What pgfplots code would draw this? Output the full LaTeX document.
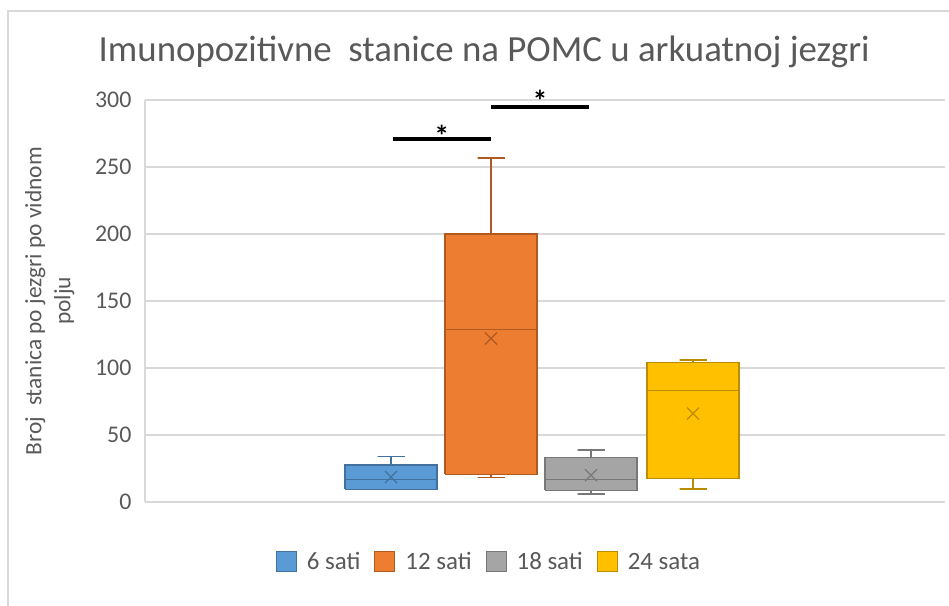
\documentclass[border=0pt]{standalone}
\usepackage{pgfplots}
\pgfplotsset{compat=1.18}
\usepackage{fontspec}
\setmainfont{Carlito}
\definecolor{txt}{HTML}{595959}
\definecolor{gridc}{HTML}{D9D9D9}
\definecolor{framec}{HTML}{D9D9D9}
\definecolor{bfill}{HTML}{5B9BD5}
\definecolor{bdraw}{HTML}{41719C}
\definecolor{ofill}{HTML}{ED7D31}
\definecolor{odraw}{HTML}{AE5A21}
\definecolor{gfill}{HTML}{A5A5A5}
\definecolor{gdraw}{HTML}{787878}
\definecolor{yfill}{HTML}{FFC000}
\definecolor{ydraw}{HTML}{BC8C00}
\begin{document}
\begin{tikzpicture}
\path[use as bounding box] (0bp,0bp) rectangle (949bp,606bp);
\draw[framec, line width=1.5bp] (8bp,-5bp) -- (8bp,595bp) -- (960bp,595bp);
\begin{axis}[
  at={(145bp,104bp)}, anchor=south west,
  scale only axis, width=800bp, height=402bp,
  xmin=-1.46, xmax=6.54, ymin=0, ymax=300,
  ytick={0,50,100,150,200,250,300}, xtick=\empty,
  ymajorgrids, grid style={gridc, line width=1.2bp},
  axis y line*=left, axis x line*=bottom,
  axis line style={gridc, line width=1.2bp, -},
  tick style={draw=none},
  ticklabel style={font=\fontsize{24}{28}\selectfont, text=txt},
  yticklabel style={xshift=-10bp},
  /pgf/number format/assume math mode=true,
  clip=false,
  title={Imunopozitivne\ \ stanice na POMC u arkuatnoj jezgri},
  title style={at={(axis description cs:0.424,1.08)}, anchor=base, font=\fontsize{37}{44}\selectfont, text=txt},
  ylabel={Broj\ \ stanica po jezgri po vidnom\\polju},
  ylabel style={at={(axis description cs:-0.119,0.5)}, anchor=center, align=center, font=\fontsize{23.5}{29}\selectfont, text=txt},
  legend style={at={(axis description cs:0.43,-0.149)}, anchor=center, draw=none, legend columns=4,
    font=\fontsize{25}{28}\selectfont, text=txt,
    /tikz/every odd column/.append style={column sep=8bp},
    /tikz/every even column/.append style={column sep=12bp}},
  legend image code/.code={\draw[#1] (0bp,-10bp) rectangle (20bp,10bp);},
  line join=miter,
]
% whiskers (vertical line + cap)
\addplot[forget plot, draw=bdraw, line width=1.5bp] coordinates {(1,27.6) (1,33.8) (0.865,33.8) (1.135,33.8)};
\addplot[forget plot, draw=bdraw, line width=1.5bp] coordinates {(1,9.5) (1,9.5) (0.865,9.5) (1.135,9.5)};
\addplot[forget plot, draw=odraw, line width=1.5bp] coordinates {(2,200) (2,256.7) (1.865,256.7) (2.135,256.7)};
\addplot[forget plot, draw=odraw, line width=1.5bp] coordinates {(2,20.6) (2,18.4) (1.865,18.4) (2.135,18.4)};
\addplot[forget plot, draw=gdraw, line width=1.5bp] coordinates {(3,33) (3,38.8) (2.865,38.8) (3.135,38.8)};
\addplot[forget plot, draw=gdraw, line width=1.5bp] coordinates {(3,8.7) (3,6) (2.865,6) (3.135,6)};
\addplot[forget plot, draw=ydraw, line width=1.5bp] coordinates {(4.02,104.2) (4.02,106) (3.885,106) (4.155,106)};
\addplot[forget plot, draw=ydraw, line width=1.5bp] coordinates {(4.02,17.4) (4.02,9.7) (3.885,9.7) (4.155,9.7)};
% boxes (lower quartile to upper quartile)
\addplot[forget plot, fill=bfill, draw=bdraw, line width=1.3bp] coordinates {(0.54,9.5) (1.46,9.5) (1.46,27.6) (0.54,27.6) (0.54,9.5)};
\addplot[forget plot, fill=ofill, draw=odraw, line width=1.3bp] coordinates {(1.54,20.6) (2.46,20.6) (2.46,200) (1.54,200) (1.54,20.6)};
\addplot[forget plot, fill=gfill, draw=gdraw, line width=1.3bp] coordinates {(2.54,8.7) (3.46,8.7) (3.46,33) (2.54,33) (2.54,8.7)};
\addplot[forget plot, fill=yfill, draw=ydraw, line width=1.3bp] coordinates {(3.56,17.4) (4.48,17.4) (4.48,104.2) (3.56,104.2) (3.56,17.4)};
% medians
\addplot[forget plot, draw=bdraw, line width=1.3bp] coordinates {(0.54,17) (1.46,17)};
\addplot[forget plot, draw=odraw, line width=1.3bp] coordinates {(1.54,128.9) (2.46,128.9)};
\addplot[forget plot, draw=gdraw, line width=1.3bp] coordinates {(2.54,17) (3.46,17)};
\addplot[forget plot, draw=ydraw, line width=1.3bp] coordinates {(3.56,83) (4.48,83)};
% means
\addplot[forget plot, only marks, mark=x, mark size=8.5bp, mark options={draw=bdraw, line width=1.3bp}] coordinates {(1,18.6)};
\addplot[forget plot, only marks, mark=x, mark size=8.5bp, mark options={draw=odraw, line width=1.3bp}] coordinates {(2,122)};
\addplot[forget plot, only marks, mark=x, mark size=8.5bp, mark options={draw=gdraw, line width=1.3bp}] coordinates {(3,20)};
\addplot[forget plot, only marks, mark=x, mark size=8.5bp, mark options={draw=ydraw, line width=1.3bp}] coordinates {(4.02,66)};
% significance bars
\addplot[forget plot, black, line width=4bp] coordinates {(1.023,270.7) (1.997,270.7)};
\addplot[forget plot, black, line width=4bp] coordinates {(2.0,294.5) (2.98,294.5)};
\node[font=\bfseries\fontsize{30}{30}\selectfont, inner sep=0pt, anchor=center] at (axis cs:1.507,273.6) {*};
\node[font=\bfseries\fontsize{30}{30}\selectfont, inner sep=0pt, anchor=center] at (axis cs:2.49,299.7) {*};
\addlegendimage{fill=bfill, draw=bdraw, line width=1bp}
\addlegendentry{6 sati}
\addlegendimage{fill=ofill, draw=odraw, line width=1bp}
\addlegendentry{12 sati}
\addlegendimage{fill=gfill, draw=gdraw, line width=1bp}
\addlegendentry{18 sati}
\addlegendimage{fill=yfill, draw=ydraw, line width=1bp}
\addlegendentry{24 sata}
\end{axis}
\end{tikzpicture}
\end{document}
